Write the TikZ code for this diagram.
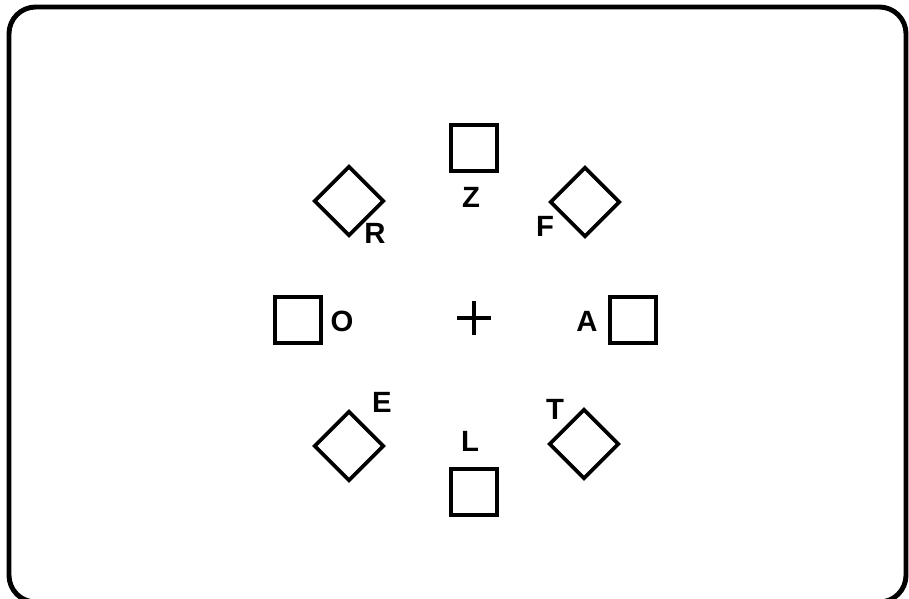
\documentclass[tikz,border=0pt]{standalone}
\usepackage{fontspec}
\setmainfont{Liberation Sans}
\usetikzlibrary{positioning}

\begin{document}
\begin{tikzpicture}[x=.03cm,y=-.03cm]
\tikzset{
sq/.style={draw,line width=3.2pt,minimum size=1.37cm,inner sep=0pt},
dm/.style={sq,rotate=45,minimum size=1.45cm},
lab/.style={font=\bfseries\fontsize{25}{27}\selectfont,inner sep=0pt,
text height=1.38ex,text depth=0pt}
}
\useasboundingbox (0,0) rectangle (909,599);
\clip (0,0) rectangle (909,599);
% frame
\draw[line width=4.2pt,rounded corners=.8cm] (9,7) rectangle (906,602);
% squares and diamonds round the fixation cross
\foreach \nm/\x/\y in {z/474/148,o/298/320,a/633/320,l/474/492}
  \node[sq] (\nm) at (\x,\y) {};
\foreach \nm/\x/\y in {r/349/201,f/585/202,e/349/446,t/584/444}
  \node[dm] (\nm) at (\x,\y) {};
\foreach \nm/\x/\y/\lab in {Z/471/203/Z,R/375/239/R,F/545/232/F,O/342/327/O,
  A/587/327/A,E/382/408/E,L/470/447/L,T/555/415/T}
  \node[lab] (lab\nm) at (\x,\y) {\lab};
\coordinate (fix) at (474,318);
\draw[line width=3.2pt] ([xshift=-.51cm]fix) -- ([xshift=.51cm]fix)
  ([yshift=-.51cm]fix) -- ([yshift=.51cm]fix);
\end{tikzpicture}
\end{document}
